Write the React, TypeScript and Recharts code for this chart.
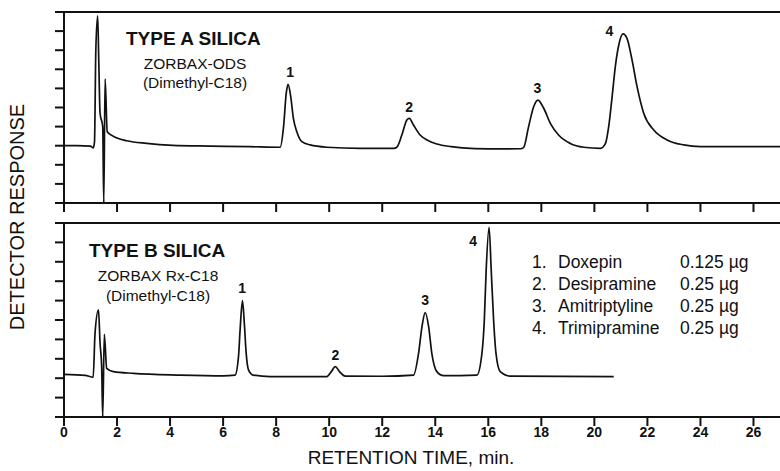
import React from 'react';
import { LineChart, Line, XAxis, YAxis, ReferenceLine, ReferenceDot } from 'recharts';

// Retention time (min) vs detector response (arbitrary units, 0-10 per panel)
const typeATrace: [number, number][] = [
  [0, 3.0], [0.5, 3.0], [1.0, 2.98], [1.1, 2.88], [1.15, 3.2], [1.2, 8.0], [1.27, 9.8], [1.31, 7.5],
  [1.36, 4.7], [1.46, 4.0], [1.5, 0], [1.55, 6.5], [1.63, 3.73], [1.85, 3.5], [2.37, 3.26],
  [3.12, 3.12], [4.1, 3.02], [5.5, 2.98], [7.0, 2.95], [8.15, 2.92], [8.28, 4.0], [8.38, 5.74],
  [8.45, 6.21], [8.55, 5.57], [8.65, 4.43], [8.78, 3.73], [8.97, 3.21], [9.28, 3.04], [9.91, 2.92],
  [11.17, 2.86], [12.43, 2.86], [12.55, 2.92], [12.74, 3.56], [12.93, 4.35], [13.02, 4.43],
  [13.18, 4.08], [13.43, 3.56], [13.69, 3.3], [14.06, 3.09], [14.6, 2.95], [15.5, 2.85],
  [16.5, 2.83], [17.21, 2.84], [17.33, 2.9], [17.52, 4.0], [17.71, 5.04], [17.87, 5.39],
  [18.09, 4.96], [18.34, 4.17], [18.65, 3.56], [19.09, 3.12], [19.6, 2.92], [20.23, 2.86],
  [20.42, 3.12], [20.54, 4.0], [20.67, 5.57], [20.79, 7.14], [20.92, 8.27], [21.08, 8.85],
  [21.23, 8.62], [21.42, 7.49], [21.61, 6.09], [21.86, 4.7], [22.24, 3.82], [22.74, 3.3],
  [23.37, 3.04], [24.0, 2.95], [25.5, 2.95], [27.0, 2.95],
];

const typeBTrace: [number, number][] = [
  [0, 2.2], [0.8, 2.15], [1.1, 2.05], [1.17, 4.31], [1.3, 5.52], [1.36, 3.8], [1.42, 2.6],
  [1.46, 0], [1.52, 4.26], [1.61, 2.51], [1.86, 2.34], [2.62, 2.25], [4.38, 2.16], [6.0, 2.12],
  [6.45, 2.16], [6.58, 3.11], [6.64, 4.48], [6.73, 6.0], [6.8, 4.83], [6.87, 3.28], [6.96, 2.42],
  [7.14, 2.16], [7.77, 2.08], [9.91, 2.08], [10.08, 2.34], [10.23, 2.6], [10.39, 2.34],
  [10.6, 2.11], [12.0, 2.1], [13.18, 2.16], [13.37, 3.28], [13.5, 4.66], [13.62, 5.38],
  [13.75, 4.66], [13.87, 3.28], [14.06, 2.34], [14.31, 2.13], [15.57, 2.16], [15.76, 3.28],
  [15.85, 5.0], [15.92, 7.58], [16.03, 9.78], [16.11, 7.58], [16.2, 5.0], [16.29, 3.28],
  [16.45, 2.34], [16.83, 2.11], [20.73, 2.08],
];

// peak number labels: [time, response, text]
const typeALabels: [number, number, string][] = [
  [8.53, 6.86, '1'], [13.02, 5.03, '2'], [17.85, 6.02, '3'], [20.57, 9.0, '4'],
];
const typeBLabels: [number, number, string][] = [
  [6.72, 6.65, '1'], [10.23, 3.2, '2'], [13.62, 6.03, '3'], [15.43, 9.07, '4'],
];

const legendNums = ['1.', '2.', '3.', '4.'];
const legendNames = ['Doxepin', 'Desipramine', 'Amitriptyline', 'Trimipramine'];
const legendAmounts = ['0.125 µg', '0.25 µg', '0.25 µg', '0.25 µg'];

const xTicks = [0, 2, 4, 6, 8, 10, 12, 14, 16, 18, 20, 22, 24, 26];
const yTicks = [0, 1, 2, 3, 4, 5, 6, 7, 8, 9, 10];

const FONT = '"Liberation Sans", Arial, Helvetica, sans-serif';
const INK = '#111';

const toRows = (trace: [number, number][]) => trace.map(([t, v]) => ({ t, v }));

const NoTick = () => <g />;

function Panel({ trace, labels, showXLabels }: { trace: [number, number][]; labels: [number, number, string][]; showXLabels: boolean }) {
  return (
    <LineChart
      width={780}
      height={showXLabels ? 260 : 223}
      data={toRows(trace)}
      margin={{ top: 12, right: 0, bottom: 0, left: 0 }}
    >
      <XAxis
        dataKey="t"
        type="number"
        domain={[0, 27]}
        ticks={xTicks}
        interval={0}
        allowDataOverflow
        height={showXLabels ? 54 : 20}
        tickSize={9}
        tickMargin={1}
        stroke={INK}
        strokeWidth={2}
        tickLine={{ stroke: INK, strokeWidth: 2 }}
        axisLine={{ stroke: INK, strokeWidth: 2 }}
        tick={showXLabels ? { fill: INK, fontSize: 14, fontWeight: 700, fontFamily: FONT } : <NoTick />}
        label={
          showXLabels
            ? {
                content: () => (
                  <text x={411} y={246} textAnchor="middle" dominantBaseline="central" fontSize={19} fontFamily={FONT} fill={INK}>
                    RETENTION TIME, min.
                  </text>
                ),
              }
            : undefined
        }
      />
      <YAxis
        type="number"
        domain={[0, 10]}
        ticks={yTicks}
        interval={0}
        allowDataOverflow
        width={64}
        tickSize={9}
        stroke={INK}
        tickLine={{ stroke: INK, strokeWidth: 2 }}
        axisLine={{ stroke: INK, strokeWidth: 2 }}
        tick={<NoTick />}
      />
      <ReferenceLine y={10} stroke={INK} strokeWidth={2} />
      <Line
        dataKey="v"
        type="monotone"
        stroke={INK}
        strokeWidth={1.7}
        dot={false}
        activeDot={false}
        isAnimationActive={false}
      />
      {labels.map(([t, v, txt]) => (
        <ReferenceDot
          key={txt}
          x={t}
          y={v}
          r={0}
          fill="none"
          stroke="none"
          label={{ value: txt, position: 'center', fill: INK, fontSize: 14, fontWeight: 700, fontFamily: FONT }}
        />
      ))}
    </LineChart>
  );
}

export default function App() {
  return (
    <div style={{ position: 'absolute', left: 0, top: 0, width: 780, height: 471, background: '#fff', overflow: 'hidden' }}>
      <div style={{ position: 'absolute', left: 0, top: 0 }}>
        <Panel trace={typeATrace} labels={typeALabels} showXLabels={false} />
      </div>
      <div style={{ position: 'absolute', left: 0, top: 211 }}>
        <Panel trace={typeBTrace} labels={typeBLabels} showXLabels={true} />
      </div>
      <svg width={780} height={471} style={{ position: 'absolute', left: 0, top: 0, pointerEvents: 'none' }}>
        <g fontFamily={FONT} fill={INK}>
          <text x={17} y={217} transform="rotate(-90 17 217)" textAnchor="middle" dominantBaseline="central" fontSize={20}>
            DETECTOR RESPONSE
          </text>
          <text x={126} y={38} dominantBaseline="central" fontSize={19} fontWeight={700}>TYPE A SILICA</text>
          <text x={195} y={63} textAnchor="middle" dominantBaseline="central" fontSize={15.5}>ZORBAX-ODS</text>
          <text x={195} y={82} textAnchor="middle" dominantBaseline="central" fontSize={15.5}>(Dimethyl-C18)</text>
          <text x={89} y={250} dominantBaseline="central" fontSize={19} fontWeight={700}>TYPE B SILICA</text>
          <text x={158} y={275} textAnchor="middle" dominantBaseline="central" fontSize={15.5}>ZORBAX Rx-C18</text>
          <text x={158} y={295} textAnchor="middle" dominantBaseline="central" fontSize={15.5}>(Dimethyl-C18)</text>
          {legendNames.map((name, i) => (
            <g key={name} fontSize={17.5}>
              <text x={532} y={262 + i * 22} dominantBaseline="central">{legendNums[i]}</text>
              <text x={558} y={262 + i * 22} dominantBaseline="central">{name}</text>
              <text x={680} y={262 + i * 22} dominantBaseline="central">{legendAmounts[i]}</text>
            </g>
          ))}
        </g>
      </svg>
    </div>
  );
}
